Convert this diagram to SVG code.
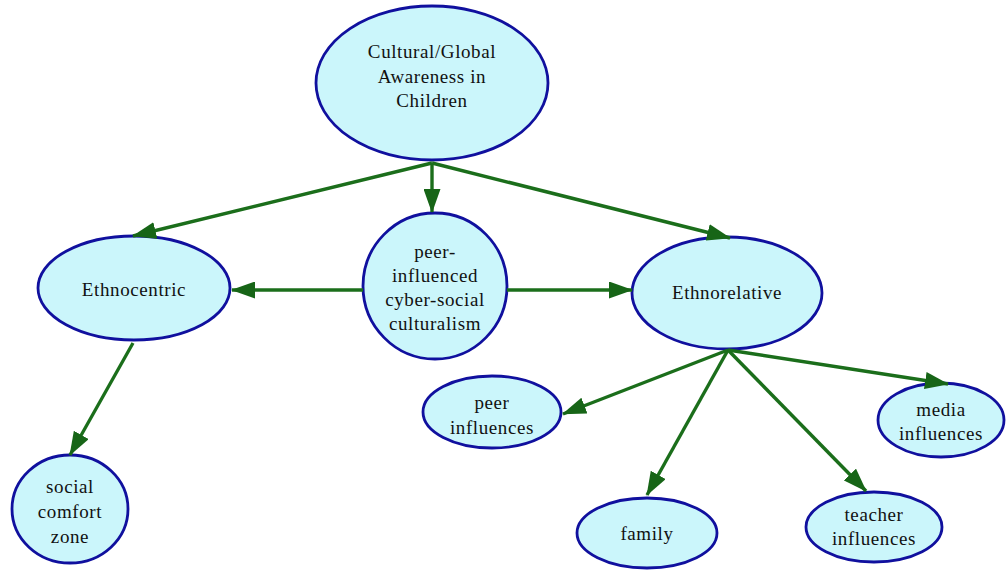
<svg xmlns="http://www.w3.org/2000/svg" width="1006" height="570" viewBox="0 0 1006 570">
<style>
.node ellipse{fill:#cbf6fb;stroke:#10109e;stroke-width:2.8}
.node text{font-family:"Liberation Serif","Times New Roman",serif;font-size:19px;letter-spacing:0.6px;fill:#111;text-anchor:middle}
#connectors line{stroke:#1b6e1b;stroke-width:3.4;marker-end:url(#ah)}
</style>
<defs>
<marker id="ah" markerWidth="24" markerHeight="17" refX="23" refY="8.5" orient="auto" markerUnits="userSpaceOnUse">
<path d="M0,0 L24,8.5 L0,17 z" fill="#176517"/>
</marker>
</defs>
<rect width="1006" height="570" fill="#ffffff"/>
<g id="n-root" class="node"><ellipse cx="432" cy="83" rx="116" ry="77"/><text x="432" y="58">Cultural/Global</text><text x="432" y="83">Awareness in</text><text x="432" y="107">Children</text></g>
<g id="n-ethnocentric" class="node"><ellipse cx="134" cy="288" rx="96" ry="52"/><text x="134" y="296">Ethnocentric</text></g>
<g id="n-peercyber" class="node"><ellipse cx="435" cy="286" rx="72" ry="73"/><text x="435" y="258">peer-</text><text x="435" y="282">influenced</text><text x="435" y="306">cyber-social</text><text x="435" y="330">culturalism</text></g>
<g id="n-ethnorelative" class="node"><ellipse cx="727" cy="293" rx="95" ry="56"/><text x="727" y="299">Ethnorelative</text></g>
<g id="n-social" class="node"><ellipse cx="70" cy="509" rx="58" ry="54"/><text x="70" y="493">social</text><text x="70" y="518">comfort</text><text x="70" y="543">zone</text></g>
<g id="n-peer" class="node"><ellipse cx="492" cy="412" rx="69" ry="36"/><text x="492" y="409">peer</text><text x="492" y="434">influences</text></g>
<g id="n-family" class="node"><ellipse cx="647" cy="533" rx="70" ry="35"/><text x="647" y="540">family</text></g>
<g id="n-teacher" class="node"><ellipse cx="874" cy="527" rx="68" ry="35"/><text x="874" y="521">teacher</text><text x="874" y="545">influences</text></g>
<g id="n-media" class="node"><ellipse cx="941" cy="420" rx="63" ry="37"/><text x="941" y="416">media</text><text x="941" y="440">influences</text></g>
<g id="connectors">
<line x1="432" y1="163" x2="133" y2="236"/>
<line x1="432" y1="163" x2="432" y2="212"/>
<line x1="432" y1="163" x2="730" y2="238"/>
<line x1="363" y1="290" x2="232" y2="290"/>
<line x1="507" y1="290" x2="632" y2="290"/>
<line x1="133" y1="343" x2="70" y2="455"/>
<line x1="728" y1="350" x2="563" y2="414"/>
<line x1="728" y1="350" x2="647" y2="495"/>
<line x1="728" y1="350" x2="866" y2="491"/>
<line x1="728" y1="350" x2="948" y2="384"/>
</g>
</svg>
